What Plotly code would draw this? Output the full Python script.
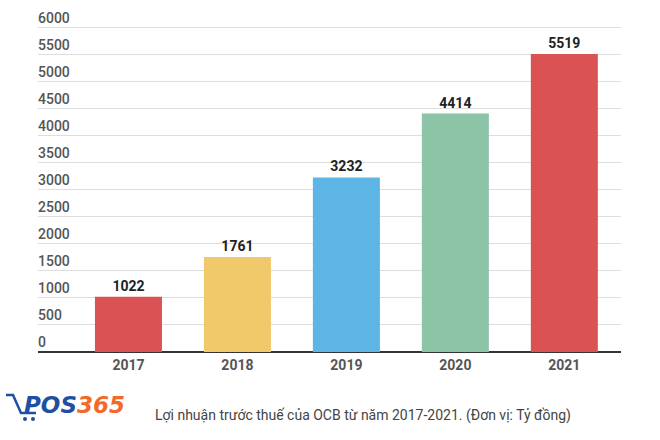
import plotly.graph_objects as go

years = ["2017", "2018", "2019", "2020", "2021"]
profits = [1022, 1761, 3232, 4414, 5519]
bar_colors = ["#db5254", "#f0c96b", "#5db5e5", "#8dc4a8", "#db5254"]
y_ticks = [0, 500, 1000, 1500, 2000, 2500, 3000, 3500, 4000, 4500, 5000, 5500, 6000]
caption = "Lợi nhuận trước thuế của OCB từ năm 2017-2021. (Đơn vị: Tỷ đồng)"

W, H = 660, 440
Y_TOP = 6480  # range top so that the 6000 label fits inside the plot area
base_y, top_y = 352, 28
scale = (base_y - top_y) / 6000
T = base_y - Y_TOP * scale
L, R, B = 38, 660 - 621, H - base_y
pw, ph = W - L - R, base_y - T

def px(x):
    return (x - L) / pw

def py(y):
    return (base_y - y) / ph

fig = go.Figure()
fig.add_trace(go.Bar(
    x=years, y=profits, marker=dict(color=bar_colors, line=dict(width=0)),
    width=0.615, text=[str(v) for v in profits], textposition="outside",
    textfont=dict(family="Roboto", size=14, color="#222222", weight="bold"),
    cliponaxis=False, hoverinfo="skip",
))

fig.update_layout(
    width=W, height=H, margin=dict(l=L, r=R, t=T, b=B, autoexpand=False),
    paper_bgcolor="white", plot_bgcolor="white", showlegend=False,
    xaxis=dict(
        type="category", range=[-0.83, 4.52], showgrid=False, ticks="",
        tickfont=dict(family="Roboto", size=14, color="#555555", weight="bold"),
        ticklabelstandoff=3,
        showline=False, zeroline=False, fixedrange=True, automargin=False,
    ),
    yaxis=dict(
        range=[0, Y_TOP], tickvals=y_ticks, ticktext=[str(v) for v in y_ticks],
        ticklabelposition="inside top", ticks="", ticklabelstandoff=-3,
        tickfont=dict(family="Roboto", size=14, color="#555555", weight=500),
        showgrid=True, gridcolor="#dedede", gridwidth=1,
        zeroline=True, zerolinecolor="#333333", zerolinewidth=2,
        showline=False, fixedrange=True, automargin=False,
    ),
)

# caption
fig.add_annotation(
    x=px(363), y=py(415), xref="paper", yref="paper", showarrow=False,
    text=caption, font=dict(family="Roboto", size=14, color="#444444"),
    xanchor="center", yanchor="middle",
)

# logo text
fig.add_annotation(
    x=px(22), y=py(405), xref="paper", yref="paper", showarrow=False,
    text="<b><i><span style='color:#1f4fa3'>POS</span><span style='color:#f2692a'>365</span></i></b>",
    font=dict(family="DejaVu Sans", size=23, color="#1f4fa3"),
    xanchor="left", yanchor="middle",
)

# cart icon
cart = (f"M {px(6)},{py(395)} L {px(13)},{py(395)} L {px(21)},{py(413)} "
        f"L {px(36)},{py(413)}")
fig.add_shape(type="path", path=cart, xref="paper", yref="paper",
              line=dict(color="#1f4fa3", width=2.5))
for cx in (25, 33):
    fig.add_shape(type="circle", xref="paper", yref="paper",
                  x0=px(cx - 2), x1=px(cx + 2), y0=py(421), y1=py(417),
                  fillcolor="#1f4fa3", line=dict(width=0))

fig.write_html("out.html", config={"displayModeBar": False},
               post_script="document.body.style.margin='0';")
